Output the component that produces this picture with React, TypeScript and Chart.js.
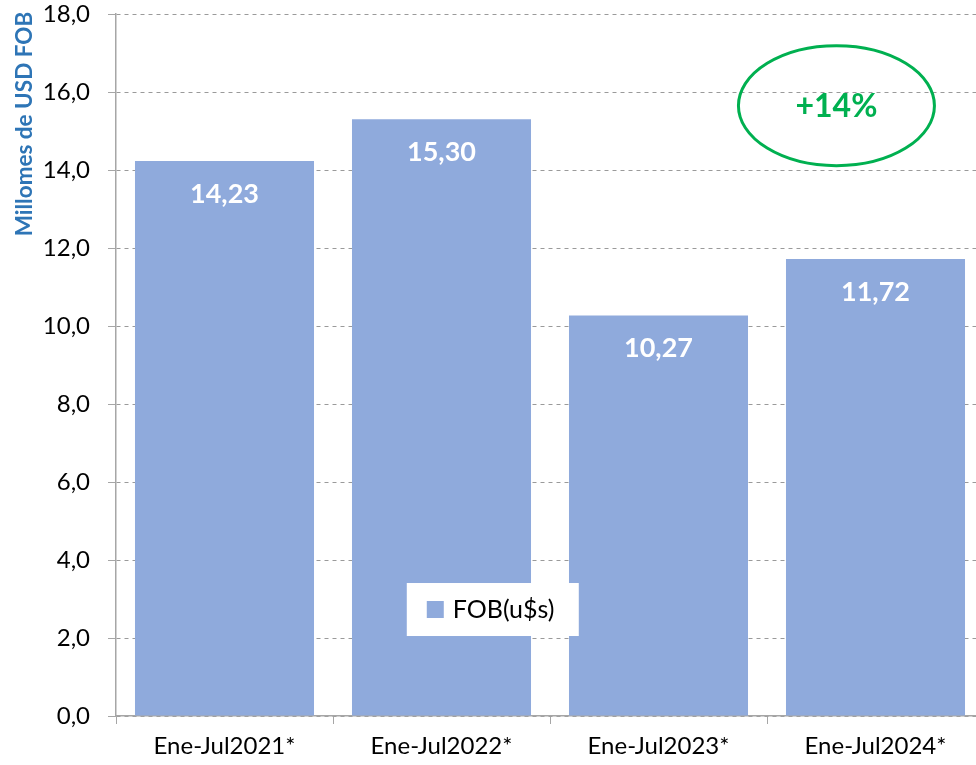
import React, { useEffect, useRef } from "react";
import { Chart, registerables } from "chart.js";

Chart.register(...registerables);

const categories = ["Ene-Jul2021*", "Ene-Jul2022*", "Ene-Jul2023*", "Ene-Jul2024*"];
const fobValues = [14.23, 15.3, 10.27, 11.72];
const seriesLabel = "FOB(u$s)";
const yTitle = "Millomes de USD FOB";
const changeLabel = "+14%";

const FONT = "Lato, 'Open Sans', sans-serif";
const BAR = "#8FAADC";
const GREEN = "#00B050";

const fmt = (v: number, d: number) => v.toFixed(d).replace(".", ",");

const overlay = {
  id: "overlay",
  afterDatasetsDraw(chart: any) {
    const ctx = chart.ctx;
    const meta = chart.getDatasetMeta(0);
    ctx.save();
    ctx.fillStyle = "#ffffff";
    ctx.font = `bold 27px ${FONT}`;
    ctx.textAlign = "center";
    ctx.textBaseline = "middle";
    meta.data.forEach((el: any, i: number) => {
      ctx.fillText(fmt(fobValues[i], 2), el.x, el.y + 33);
    });
    ctx.restore();
  },
  afterDraw(chart: any) {
    const ctx = chart.ctx;
    const y = chart.scales.y;
    const x = chart.scales.x;
    ctx.save();
    // legend box
    const lx = x.getPixelForValue(0.84);
    const ly = y.getPixelForValue(3.41);
    ctx.fillStyle = "#ffffff";
    ctx.fillRect(lx, ly, 172, 53);
    ctx.fillStyle = BAR;
    ctx.fillRect(lx + 20, ly + 18, 17, 17);
    ctx.fillStyle = "#000000";
    ctx.font = `25px ${FONT}`;
    ctx.textBaseline = "middle";
    ctx.textAlign = "left";
    ctx.fillText(seriesLabel, lx + 46, ly + 27);
    // ellipse annotation
    const cx = x.getPixelForValue(2.82);
    const cy = y.getPixelForValue(15.65);
    ctx.beginPath();
    ctx.ellipse(cx, cy, 98, 60, 0, 0, Math.PI * 2);
    ctx.strokeStyle = GREEN;
    ctx.lineWidth = 3;
    ctx.stroke();
    ctx.fillStyle = GREEN;
    ctx.font = `bold 32px ${FONT}`;
    ctx.textAlign = "center";
    ctx.fillText(changeLabel, cx, cy + 1);
    // y title
    ctx.translate(25, 124);
    ctx.rotate(-Math.PI / 2);
    ctx.fillStyle = "#2E75B6";
    ctx.font = `bold 22.5px ${FONT}`;
    ctx.textAlign = "center";
    ctx.fillText(yTitle, 0, 0);
    ctx.restore();
  },
};

export default function App() {
  const ref = useRef<HTMLCanvasElement>(null);
  useEffect(() => {
    if (!ref.current) return;
    const chart = new Chart(ref.current, {
      type: "bar",
      data: {
        labels: categories,
        datasets: [
          {
            label: seriesLabel,
            data: fobValues,
            backgroundColor: BAR,
            categoryPercentage: 1,
            barPercentage: 0.825,
          },
        ],
      },
      options: {
        animation: false,
        responsive: false,
        layout: { padding: { top: 14, right: 6, left: 0, bottom: 0 } },
        plugins: { legend: { display: false }, tooltip: { enabled: false } },
        scales: {
          x: {
            grid: {
              drawOnChartArea: false,
              drawTicks: true,
              tickLength: 8,
              tickColor: "#A6A6A6",
              offset: true,
            },
            border: { color: "#A6A6A6", width: 1.5 },
            ticks: { color: "#000", font: { family: FONT, size: 24 }, padding: 8 },
            afterFit: (s: any) => {
              s.height = 49;
              s.paddingLeft = 0;
              s.paddingRight = 0;
            },
          },
          y: {
            min: 0,
            max: 18,
            ticks: {
              stepSize: 2,
              color: "#000",
              font: { family: FONT, size: 24 },
              padding: 18,
              callback: (v: any) => fmt(Number(v), 1),
            },
            grid: {
              color: "#9A9A9A",
              tickBorderDash: [] as any,
              tickColor: "#A6A6A6",
              tickLength: 8,
              lineWidth: 1,
            } as any,
            border: { color: "#A6A6A6", width: 1.5, dash: [4, 4] } as any,
            afterFit: (s: any) => {
              s.width = 116;
              s.paddingTop = 0;
              s.paddingBottom = 0;
            },
          },
        },
      },
      plugins: [overlay],
    });
    return () => chart.destroy();
  }, []);
  return (
    <div style={{ position: "fixed", left: 0, top: 0, width: 976, height: 765, overflow: "hidden", background: "#fff" }}>
      <canvas ref={ref} width={990} height={765} style={{ display: "block" }} />
    </div>
  );
}
